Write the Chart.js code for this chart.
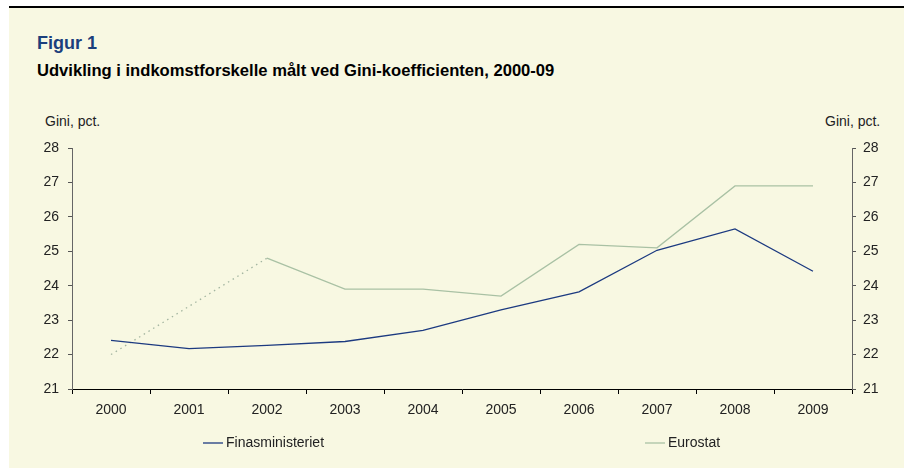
<!DOCTYPE html>
<html>
<head>
<meta charset="utf-8">
<script src="https://cdn.jsdelivr.net/npm/chart.js"></script>
<style>
    html, body { margin: 0; padding: 0; background: #fff; }
    #page { position: relative; width: 904px; height: 468px; overflow: hidden; font-family: "Liberation Sans", Arial, sans-serif; }
    #panel { position: absolute; left: 9px; top: 6px; right: 0; bottom: 0; background: #f8f8e2; border-top: 2px solid #000; }
    .txt { position: absolute; white-space: nowrap; }
    #fig { left: 37px; top: 33px; font-size: 18px; font-weight: bold; color: #1b3f7c; }
    #sub { left: 37px; top: 61px; font-size: 16.6px; font-weight: bold; color: #000; }
    .unit { top: 113px; font-size: 14px; color: #222; }
    canvas { position: absolute; left: 0; top: 0; }
</style>
</head>
<body>
<div id="page">
    <div id="panel"></div>
    <div class="txt" id="fig">Figur 1</div>
    <div class="txt" id="sub">Udvikling i indkomstforskelle målt ved Gini-koefficienten, 2000-09</div>
    <div class="txt unit" style="left:45px">Gini, pct.</div>
    <div class="txt unit" style="left:825px">Gini, pct.</div>
    <canvas id="chart" width="904" height="468"></canvas>
</div>
<script>
const years = ['2000', '2001', '2002', '2003', '2004', '2005', '2006', '2007', '2008', '2009'];
const finansministeriet = [22.41, 22.17, 22.27, 22.38, 22.70, 23.30, 23.82, 25.03, 25.65, 24.42];
const eurostat = [22.0, null, 24.8, 23.9, 23.9, 23.7, 25.2, 25.1, 26.9, 26.9];
const yMin = 21, yMax = 28;

const FONT = { family: '"Liberation Sans", Arial, sans-serif', size: 14 };

// legend drawn at fixed spots, like the original
const legendSpots = [{ x: 203, y: 443 }, { x: 645, y: 443 }];
const spreadLegend = {
    id: 'spreadLegend',
    afterDraw(chart) {
        const c = chart.ctx;
        c.save();
        c.font = '14px ' + FONT.family;
        c.textBaseline = 'middle';
        c.fillStyle = '#222';
        chart.data.datasets.forEach((ds, i) => {
            const p = legendSpots[i];
            c.strokeStyle = ds.borderColor;
            c.lineWidth = 1.3;
            c.beginPath();
            c.moveTo(p.x, p.y);
            c.lineTo(p.x + 20, p.y);
            c.stroke();
            c.fillText(ds.label, p.x + 23, p.y);
        });
        c.restore();
    }
};

// the missing 2001 point is bridged with a dotted line
const skipped = (ctx, value) => (ctx.p0.skip || ctx.p1.skip ? value : undefined);

new Chart(document.getElementById('chart'), {
    type: 'line',
    data: {
        labels: years,
        datasets: [{
            label: 'Finasministeriet',
            data: finansministeriet,
            borderColor: '#1c3a80',
            borderWidth: 1.3,
            pointRadius: 0,
            tension: 0
        }, {
            label: 'Eurostat',
            data: eurostat,
            borderColor: '#a9c1a4',
            borderWidth: 1.3,
            pointRadius: 0,
            tension: 0,
            spanGaps: true,
            segment: {
                borderDash: ctx => skipped(ctx, [1.5, 4]),
                borderColor: ctx => skipped(ctx, '#a3b5a0')
            }
        }]
    },
    options: {
        responsive: false,
        animation: false,
        devicePixelRatio: 1,
        layout: { padding: { top: 148, bottom: 49, left: 0, right: 0 } },
        plugins: { legend: { display: false }, tooltip: { enabled: false } },
        scales: {
            x: {
                offset: true,
                afterFit: s => { s.height = 30; },
                grid: { drawOnChartArea: false, drawTicks: true, tickLength: 5, color: '#000', offset: true },
                border: { color: '#000', width: 1 },
                ticks: { font: FONT, color: '#222', padding: 8, maxRotation: 0 }
            },
            y: {
                position: 'left',
                min: yMin, max: yMax,
                afterFit: s => { s.width = 72; },
                grid: { drawOnChartArea: false, tickLength: 4, color: '#555' },
                border: { color: '#666', width: 1 },
                ticks: { stepSize: 1, font: FONT, color: '#222', padding: 9 }
            },
            y2: {
                position: 'right',
                min: yMin, max: yMax,
                afterFit: s => { s.width = 52; },
                grid: { drawOnChartArea: false, tickLength: 4, color: '#555' },
                border: { color: '#666', width: 1 },
                ticks: { stepSize: 1, font: FONT, color: '#222', padding: 7 }
            }
        }
    },
    plugins: [spreadLegend]
});
</script>
</body>
</html>
